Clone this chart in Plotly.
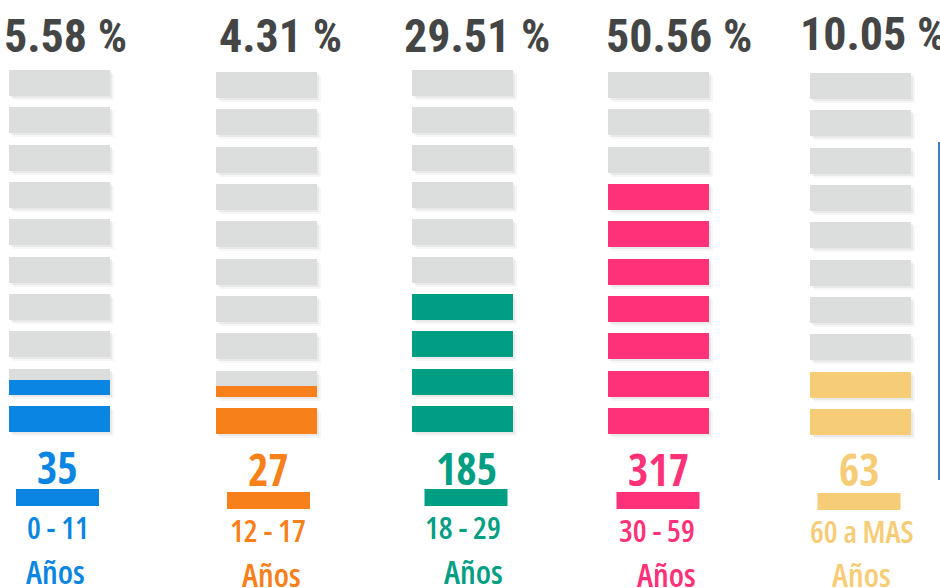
import plotly.graph_objects as go

# ---- data ----
age_ranges = ["0 - 11", "12 - 17", "18 - 29", "30 - 59", "60 a MAS"]
counts = [35, 27, 185, 317, 63]
percents = [5.58, 4.31, 29.51, 50.56, 10.05]
filled_blocks = [1.57, 1.41, 4, 7, 2]   # coloured blocks shown per column (out of 10)
unit_label = "Años"
n_blocks = 10

# ---- style / layout constants ----
colors = ["#0A86E2", "#F7801A", "#009E83", "#FF3279", "#F6CD76"]
gray = "#DCDDDD"
text_gray = "#444545"
col_centers = [59.5, 266.5, 462.5, 658.5, 860.5]
col_tops = [70, 72, 70, 72, 73]
bar_w = 101
bar_h = 26
pitch = 37.33
pct_centers = [65, 280, 477, 679, 873]
pct_y = [36, 36, 36, 35.5, 33.5]
count_centers = [57.5, 268.5, 466, 658, 859]
count_y = [467, 469, 467.5, 469, 469]
und_y = [489, 492, 489, 492, 493]
und_w = 83
und_h = 17
rng_centers = [57.7, 268, 462.5, 657, 861.8]
rng_y = [527, 530, 527, 530, 531]
anos_centers = [55.5, 271, 473.5, 666, 861.5]
anos_y = [571, 574, 571, 574, 574]

FONT_PCT = "Roboto Condensed, Roboto, sans-serif"
FONT_CNT = "Open Sans Condensed, Open Sans, sans-serif"
FONT_LBL = "Open Sans, sans-serif"


def cond(t):
    return f"<span style='font-stretch:condensed'>{t}</span>"


fig = go.Figure()

# soft shadows behind the blocks
for dx, dy, alpha in [(4, 4, 0.035), (2, 2, 0.05)]:
    xs, bases, hs = [], [], []
    for c in range(len(counts)):
        bottom_top = col_tops[c] + (n_blocks - 1) * pitch
        for r in range(n_blocks):
            y_top = bottom_top - r * pitch
            xs.append(col_centers[c] + dx)
            bases.append(y_top + bar_h + dy)
            hs.append(-bar_h)
    fig.add_trace(go.Bar(x=xs, y=hs, base=bases, width=bar_w,
                         marker=dict(color=f"rgba(0,0,0,{alpha})", line=dict(width=0)),
                         hoverinfo="skip", showlegend=False))

# gray background blocks
gx, gb, gh = [], [], []
for c in range(len(counts)):
    bottom_top = col_tops[c] + (n_blocks - 1) * pitch
    for r in range(n_blocks):
        y_top = bottom_top - r * pitch
        gx.append(col_centers[c]); gb.append(y_top + bar_h); gh.append(-bar_h)
fig.add_trace(go.Bar(x=gx, y=gh, base=gb, width=bar_w,
                     marker=dict(color=gray, line=dict(width=0)),
                     hoverinfo="skip", showlegend=False))

# coloured (filled) blocks
for c in range(len(counts)):
    bottom_top = col_tops[c] + (n_blocks - 1) * pitch
    fx, fb, fh = [], [], []
    for r in range(n_blocks):
        frac = max(0.0, min(1.0, filled_blocks[c] - r))
        if frac <= 0:
            continue
        y_top = bottom_top - r * pitch
        fx.append(col_centers[c]); fb.append(y_top + bar_h); fh.append(-bar_h * frac)
    fig.add_trace(go.Bar(x=fx, y=fh, base=fb, width=bar_w,
                         marker=dict(color=colors[c], line=dict(width=0)),
                         name=age_ranges[c], showlegend=False))

shapes = []
annotations = []
for c in range(len(counts)):
    shapes.append(dict(type="rect", xref="x", yref="y",
                       x0=count_centers[c] - und_w / 2, x1=count_centers[c] + und_w / 2,
                       y0=und_y[c], y1=und_y[c] + und_h,
                       fillcolor=colors[c], line=dict(width=0)))
    annotations.append(dict(x=pct_centers[c], y=pct_y[c], xref="x", yref="y",
                            text=f"{percents[c]:.2f} %", showarrow=False,
                            font=dict(family=FONT_PCT, size=46, color=text_gray, weight="bold")))
    annotations.append(dict(x=count_centers[c], y=count_y[c], xref="x", yref="y",
                            text=cond(str(counts[c])), showarrow=False,
                            font=dict(family=FONT_CNT, size=44, color=colors[c], weight="bold")))
    annotations.append(dict(x=rng_centers[c], y=rng_y[c], xref="x", yref="y",
                            text=cond(age_ranges[c]), showarrow=False,
                            font=dict(family=FONT_LBL, size=31, color=colors[c], weight=600)))
    annotations.append(dict(x=anos_centers[c], y=anos_y[c], xref="x", yref="y",
                            text=cond(unit_label), showarrow=False,
                            font=dict(family=FONT_LBL, size=33, color=colors[c], weight=600)))

# decorative thin blue line at right edge
shapes.append(dict(type="line", xref="x", yref="y", x0=939, x1=939, y0=142, y1=480,
                   line=dict(color="#3F7FB4", width=2)))

fig.update_layout(
    width=940, height=588,
    margin=dict(l=0, r=0, t=0, b=0),
    paper_bgcolor="white", plot_bgcolor="white",
    barmode="overlay", bargap=0,
    xaxis=dict(range=[0, 940], visible=False, fixedrange=True),
    yaxis=dict(range=[588, 0], visible=False, fixedrange=True),
    shapes=shapes, annotations=annotations,
)

fig.write_html("out.html", config={"displayModeBar": False},
               post_script="document.body.style.margin='0';")
